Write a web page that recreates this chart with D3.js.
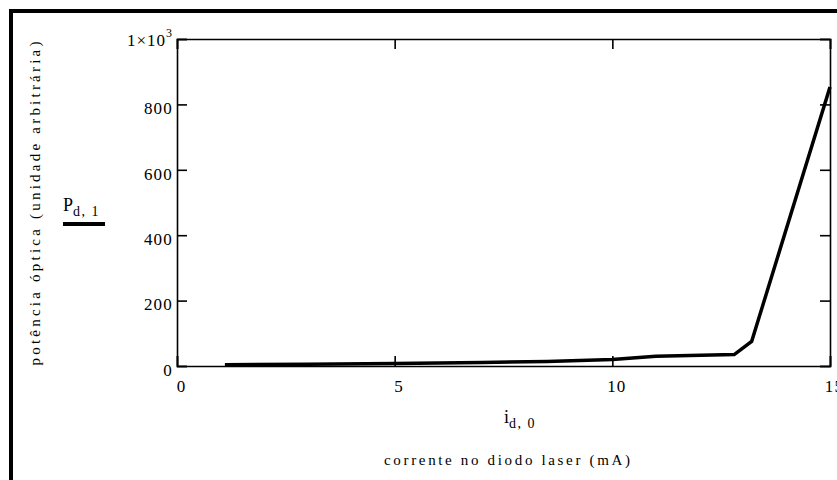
<!DOCTYPE html>
<html>
<head>
<meta charset="utf-8">
<script src="https://cdn.jsdelivr.net/npm/d3@7"></script>
<style>
  body { margin: 0; background: #fff; }
  svg { display: block; }
  text { font-family: "Liberation Serif", "Times New Roman", serif; fill: #000; }
</style>
</head>
<body>
<svg id="chart" width="837" height="480"></svg>
<script>
// Data
const current = [1.1, 3, 5, 7, 8.5, 10, 11, 12.8, 13.2, 15]
const power = [4, 5, 8, 11, 14, 20, 30, 35, 75, 853]
const xTicks = [0, 5, 10, 15]
const yTicks = [0, 200, 400, 600, 800, 1000]

const plot = {left: 177, right: 830, top: 39, bottom: 366}

const svg = d3.select('#chart')

// outer frame (runs past the right/bottom edge like the original)
svg.append('rect')
    .attr('x', 11).attr('y', 11)
    .attr('width', 900).attr('height', 600)
    .attr('fill', 'none').attr('stroke', '#000').attr('stroke-width', 4)

const x = d3.scaleLinear().domain([0, 15]).range([plot.left, plot.right])
const y = d3.scaleLinear().domain([0, 1000]).range([plot.bottom, plot.top])

const tk = 10
// bottom axis: labels below, ticks pointing in
const xb = svg.append('g').attr('transform', `translate(0,${plot.bottom})`)
    .call(d3.axisBottom(x).tickValues(xTicks).tickSize(-tk).tickPadding(14).tickFormat(d3.format('d')))
// top axis: only ticks
const xt = svg.append('g').attr('transform', `translate(0,${plot.top})`)
    .call(d3.axisTop(x).tickValues(xTicks).tickSize(-tk).tickFormat(''))
// left axis
const yl = svg.append('g').attr('transform', `translate(${plot.left},0)`)
    .call(d3.axisLeft(y).tickValues(yTicks).tickSize(-tk).tickPadding(4)
        .tickFormat(d => d === 1000 ? '' : d))
// right axis
const yr = svg.append('g').attr('transform', `translate(${plot.right},0)`)
    .call(d3.axisRight(y).tickValues(yTicks).tickSize(-tk).tickFormat(''))

;[xb, xt, yl, yr].forEach(g => {
    g.select('.domain').attr('stroke', '#000').attr('stroke-width', 1.6)
    g.selectAll('.tick line').attr('stroke', '#000').attr('stroke-width', 1.6)
    g.selectAll('text').attr('font-size', 17).attr('letter-spacing', 1.2)
})
yl.selectAll('.tick text').attr('dy', '0.55em')
xb.selectAll('.tick text').attr('dx', 4)

// 1x10^3 label on the top tick
const topLbl = svg.append('text')
    .attr('x', plot.left - 4).attr('y', y(1000) + 7)
    .attr('text-anchor', 'end').attr('font-size', 17).attr('letter-spacing', 1)
topLbl.append('tspan').text('1×10')
topLbl.append('tspan').attr('font-size', 12).attr('dy', -9).text('3')

// data line
const line = d3.line().x((d, i) => x(current[i])).y(d => y(d))
svg.append('path')
    .datum(power)
    .attr('d', line)
    .attr('fill', 'none')
    .attr('stroke', '#000')
    .attr('stroke-width', 3.5)
    .attr('stroke-linejoin', 'miter')

// x labels
const ix = svg.append('text')
    .attr('x', 520).attr('y', 423)
    .attr('text-anchor', 'middle').attr('font-size', 18)
ix.append('tspan').text('i')
ix.append('tspan').attr('font-size', 14).attr('dy', 5).attr('letter-spacing', 1.5).text('d, 0')

svg.append('text')
    .attr('x', 507).attr('y', 465)
    .attr('text-anchor', 'middle').attr('font-size', 15)
    .attr('textLength', 246).attr('lengthAdjust', 'spacing')
    .text('corrente no diodo laser (mA)')

// y labels
svg.append('text')
    .attr('transform', `translate(40,${(plot.top + plot.bottom) / 2 + 1}) rotate(-90)`)
    .attr('text-anchor', 'middle').attr('font-size', 15)
    .attr('textLength', 324).attr('lengthAdjust', 'spacing')
    .text('potência óptica (unidade arbitrária)')

const py = svg.append('text')
    .attr('x', 63).attr('y', 211).attr('font-size', 18)
py.append('tspan').text('P')
py.append('tspan').attr('font-size', 14).attr('dy', 5).attr('letter-spacing', 1.5).text('d, 1')

svg.append('line')
    .attr('x1', 63).attr('x2', 105)
    .attr('y1', 224).attr('y2', 224)
    .attr('stroke', '#000').attr('stroke-width', 4)
</script>
</body>
</html>
